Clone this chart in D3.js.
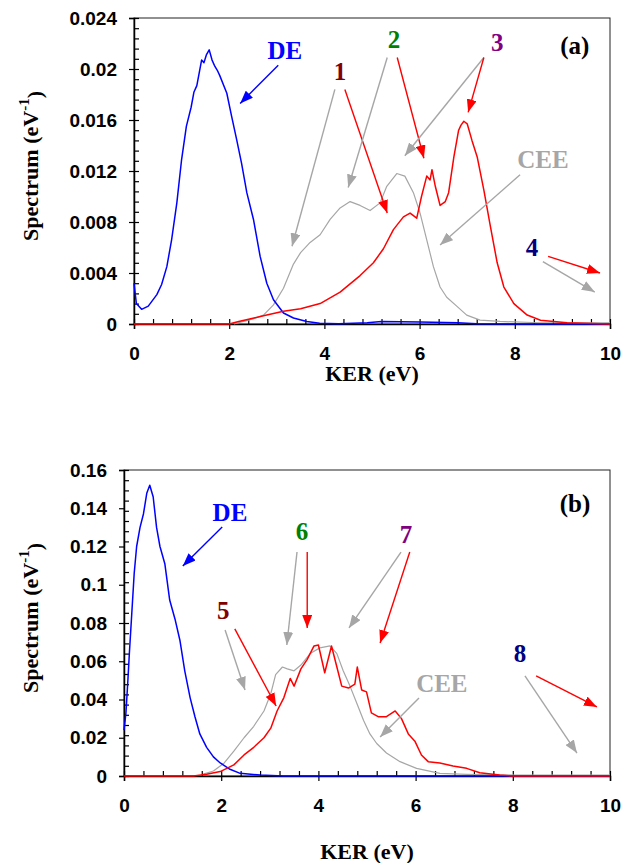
<!DOCTYPE html>
<html>
<head>
<meta charset="utf-8">
<script src="https://d3js.org/d3.v7.min.js"></script>
<style>
  body { margin: 0; background: #fff; }
  svg { display: block; }
  .tick text { font-family: "Liberation Sans", Arial, sans-serif; font-weight: bold; font-size: 19px; fill: #000; }
  .ttl { font-family: "Liberation Serif", "Times New Roman", serif; font-weight: bold; }
</style>
</head>
<body>
<svg width="635" height="863"></svg>
<script>
// ---- panel (a) ----
const deA_x = [0,0.05,0.16,0.3,0.48,0.58,0.69,0.79,0.9,1.0,1.1,1.2,1.26,1.32,1.42,1.47,1.52,1.58,1.64,1.7,1.75,1.8,1.95,2.05,2.16,2.26,2.37,2.51,2.65,2.79,2.93,3.14,3.35,3.63,3.9,4.3,4.9,5.2,6.0,6.8,7.2,8,10];
const deA_y = [0.0032,0.0016,0.00115,0.0014,0.0023,0.0031,0.0045,0.0066,0.0095,0.0129,0.0155,0.0170,0.0182,0.0187,0.0207,0.0205,0.0211,0.0215,0.0207,0.0202,0.0199,0.0195,0.0181,0.0163,0.0144,0.0126,0.0103,0.0082,0.0053,0.0032,0.0019,0.00086,0.00047,0.0002,0.00005,0.00002,0.0001,0.0002,0.00015,0.0001,0.00002,0,0];
const ceeA_x = [2.1,2.3,2.5,2.72,2.93,3.14,3.35,3.5,3.7,3.91,4.12,4.33,4.54,4.75,4.96,5.17,5.31,5.52,5.69,5.87,6.01,6.15,6.29,6.43,6.57,6.78,6.99,7.27,7.69,8.5,10];
const ceeA_y = [0,0.0002,0.0004,0.0007,0.0015,0.0028,0.0047,0.0056,0.0064,0.0070,0.0082,0.0091,0.0096,0.0093,0.0089,0.0095,0.0108,0.0118,0.0116,0.0103,0.0087,0.0066,0.0045,0.0029,0.0021,0.0014,0.0007,0.0003,0.0002,0.0001,0.0001];
const sumA_x = [0,2.0,2.2,2.43,2.79,3.14,3.5,3.91,4.33,4.75,5.03,5.24,5.45,5.66,5.8,5.94,6.04,6.15,6.22,6.26,6.33,6.43,6.54,6.61,6.72,6.82,6.87,6.93,7.0,7.1,7.21,7.35,7.49,7.63,7.77,7.98,8.26,8.54,9.1,10];
const sumA_y = [0,0,0.0002,0.0004,0.0007,0.0010,0.0012,0.0016,0.0025,0.0038,0.0048,0.0059,0.0074,0.0084,0.0087,0.0083,0.0100,0.0116,0.0113,0.0121,0.0108,0.0093,0.0096,0.0103,0.0131,0.0152,0.0156,0.0159,0.0157,0.0144,0.0131,0.0105,0.0076,0.0048,0.0029,0.0016,0.0007,0.0003,0.0001,0];

// ---- panel (b) ----
const deB_x = [0,0.04,0.08,0.11,0.16,0.21,0.26,0.33,0.4,0.47,0.53,0.6,0.67,0.74,0.84,0.94,1.05,1.15,1.25,1.36,1.46,1.56,1.7,1.84,1.98,2.18,2.39,2.8,3.28,10];
const deB_y = [0.024,0.033,0.050,0.064,0.085,0.106,0.120,0.130,0.137,0.148,0.152,0.146,0.130,0.120,0.111,0.092,0.082,0.071,0.055,0.041,0.031,0.022,0.015,0.010,0.0068,0.0035,0.0014,0.0005,0,0];
const ceeB_x = [1.63,1.84,2.05,2.26,2.47,2.67,2.88,3.02,3.12,3.26,3.36,3.5,3.64,3.83,4.03,4.24,4.38,4.51,4.65,4.79,4.93,5.06,5.2,5.4,5.68,6.02,6.5,7.05,8,10];
const ceeB_y = [0.001,0.0026,0.0065,0.013,0.020,0.026,0.034,0.043,0.053,0.057,0.056,0.055,0.058,0.064,0.067,0.068,0.064,0.055,0.047,0.038,0.029,0.022,0.017,0.012,0.0075,0.004,0.0014,0.0009,0.0005,0.0005];
const sumB_x = [0,1.43,1.7,1.98,2.26,2.47,2.67,2.88,3.02,3.15,3.29,3.42,3.5,3.64,3.77,3.91,4.0,4.13,4.27,4.38,4.48,4.62,4.75,4.8,4.89,4.99,5.09,5.23,5.4,5.58,5.71,5.85,5.99,6.12,6.26,6.5,6.77,7.05,7.32,7.73,8,10];
const sumB_y = [0,0,0.0009,0.0023,0.0058,0.011,0.015,0.020,0.025,0.034,0.041,0.051,0.047,0.056,0.061,0.068,0.0685,0.054,0.068,0.057,0.047,0.046,0.048,0.057,0.045,0.044,0.033,0.031,0.031,0.034,0.030,0.022,0.018,0.011,0.0075,0.0068,0.0052,0.004,0.0017,0.0005,0,0];

// tick labels
const xTicks = [0,2,4,6,8,10];
const yTicksA = [0,0.004,0.008,0.012,0.016,0.02,0.024];
const yTicksB = [0,0.02,0.04,0.06,0.08,0.1,0.12,0.14,0.16];

// annotations in data units: [text, x, y, colour]
const labelsA = [["DE",3.17,0.0215,"#0000ff"],["1",4.33,0.0198,"#800000"],["2",5.46,0.0223,"#008000"],["3",7.63,0.0221,"#800080"],["(a)",9.26,0.0219,"#000"],["CEE",8.59,0.0129,"#a6a6a6"],["4",8.36,0.0060,"#000080"]];
const arrowsA = [[3.03,0.0203,2.23,0.0173,"blue"],[4.22,0.0184,3.32,0.0061,"gray"],[4.43,0.0184,5.32,0.0087,"red"],[5.32,0.0209,4.50,0.0107,"gray"],[5.53,0.0209,6.09,0.0130,"red"],[7.35,0.0209,5.69,0.0132,"gray"],[7.35,0.0209,7.02,0.0166,"red"],[8.11,0.0117,6.43,0.0062,"gray"],[8.70,0.0053,9.79,0.0040,"red"],[8.59,0.0049,9.68,0.0025,"gray"]];
const labelsB = [["DE",2.18,0.138,"#0000ff"],["6",3.66,0.128,"#008000"],["5",2.04,0.0868,"#800000"],["7",5.80,0.1265,"#800080"],["(b)",9.28,0.1428,"#000"],["CEE",6.54,0.0486,"#a6a6a6"],["8",8.15,0.0643,"#000080"]];
const arrowsB = [[2.02,0.1302,1.21,0.1098,"blue"],[2.08,0.0763,2.49,0.045,"gray"],[2.28,0.0769,3.13,0.0366,"red"],[3.56,0.1171,3.35,0.0685,"gray"],[3.77,0.1171,3.77,0.0774,"red"],[5.70,0.1171,4.63,0.0774,"gray"],[5.88,0.1171,5.27,0.0695,"red"],[6.07,0.0408,5.27,0.0204,"gray"],[8.25,0.0523,9.32,0.012,"gray"],[8.48,0.0523,9.73,0.0361,"red"]];

const colors = {blue: "#0000ff", red: "#ff0000", gray: "#a6a6a6"};
const svg = d3.select("svg");

const defs = svg.append("defs");
Object.keys(colors).forEach(k => {
  defs.append("marker")
      .attr("id", "head-" + k)
      .attr("markerUnits", "userSpaceOnUse")
      .attr("markerWidth", 14).attr("markerHeight", 10)
      .attr("refX", 13).attr("refY", 5)
      .attr("orient", "auto")
    .append("path")
      .attr("d", "M0,0 L13,5 L0,10 Z")
      .attr("fill", colors[k]);
});

function panel(o) {
  const g = svg.append("g").attr("transform", `translate(${o.left},${o.top})`);
  const x = d3.scaleLinear().domain([0, 10]).range([0, o.w]);
  const y = d3.scaleLinear().domain([0, o.ymax]).range([o.h, 0]);

  // frame
  g.append("rect").attr("width", o.w).attr("height", o.h)
    .attr("fill", "none").attr("stroke", "#222").attr("stroke-width", 1);

  // inner (minor) ticks
  g.append("g").attr("transform", `translate(0,${o.h})`)
    .call(d3.axisBottom(x).tickValues(d3.range(0, 10.001, 0.4)).tickSize(-5).tickFormat(""))
    .call(a => a.select(".domain").remove());
  g.append("g")
    .call(d3.axisLeft(y).tickValues(d3.range(0, o.ymax * 1.0001, o.ymax / 30)).tickSize(-5).tickFormat(""))
    .call(a => a.select(".domain").remove());

  // major ticks + labels
  g.append("g").attr("transform", `translate(0,${o.h})`)
    .call(d3.axisBottom(x).tickValues(xTicks).tickSize(5).tickPadding(18).tickFormat(d => String(d)))
    .call(a => a.select(".domain").attr("stroke-width", 1.5));
  g.append("g")
    .call(d3.axisLeft(y).tickValues(o.yTicks).tickSize(5).tickPadding(12).tickFormat(d => String(d)))
    .call(a => a.select(".domain").attr("stroke-width", 1.5));
  g.selectAll(".tick line").attr("stroke", "#000").attr("stroke-width", 1.2);

  const line = d3.line().x(d => x(d[0])).y(d => y(d[1]));
  o.series.forEach(s => {
    g.append("path")
      .datum(d3.zip(s.x, s.y))
      .attr("fill", "none")
      .attr("stroke", colors[s.c])
      .attr("stroke-width", s.c === "gray" ? 1.2 : 1.5)
      .attr("stroke-linejoin", "round")
      .attr("d", line);
  });

  g.selectAll(".arrow").data(o.arrows).join("line")
    .attr("x1", d => x(d[0])).attr("y1", d => y(d[1]))
    .attr("x2", d => x(d[2])).attr("y2", d => y(d[3]))
    .attr("stroke", d => colors[d[4]]).attr("stroke-width", 1.4)
    .attr("marker-end", d => `url(#head-${d[4]})`);

  g.selectAll(".lbl").data(o.labels).join("text")
    .attr("class", "ttl")
    .attr("x", d => x(d[1])).attr("y", d => y(d[2]))
    .attr("dy", "0.35em")
    .attr("text-anchor", "middle")
    .style("font-size", "25px")
    .attr("fill", d => d[3])
    .text(d => d[0]);

  // axis titles
  g.append("text").attr("class", "ttl")
    .attr("x", o.w / 2 + o.xtOff).attr("y", o.h + o.xtDy)
    .attr("text-anchor", "middle").style("font-size", "22px")
    .text("KER (eV)");
  const yt = g.append("text").attr("class", "ttl")
    .attr("transform", `translate(${30 - o.left},${o.h / 2 - 5}) rotate(-90)`)
    .attr("text-anchor", "middle").attr("dy", "0.35em").style("font-size", "22px");
  yt.append("tspan").text("Spectrum (eV");
  yt.append("tspan").attr("dy", "-0.6em").style("font-size", "15px").text("-1");
  yt.append("tspan").attr("dy", "0.6em").text(")");
}

panel({
  left: 134, top: 18, w: 476, h: 306, ymax: 0.024, yTicks: yTicksA, xtOff: 0, xtDy: 57,
  series: [{x: ceeA_x, y: ceeA_y, c: "gray"}, {x: deA_x, y: deA_y, c: "blue"}, {x: sumA_x, y: sumA_y, c: "red"}],
  labels: labelsA, arrows: arrowsA
});
panel({
  left: 124, top: 470, w: 486, h: 306, ymax: 0.16, yTicks: yTicksB, xtOff: 0, xtDy: 83,
  series: [{x: ceeB_x, y: ceeB_y, c: "gray"}, {x: deB_x, y: deB_y, c: "blue"}, {x: sumB_x, y: sumB_y, c: "red"}],
  labels: labelsB, arrows: arrowsB
});
</script>
</body>
</html>
